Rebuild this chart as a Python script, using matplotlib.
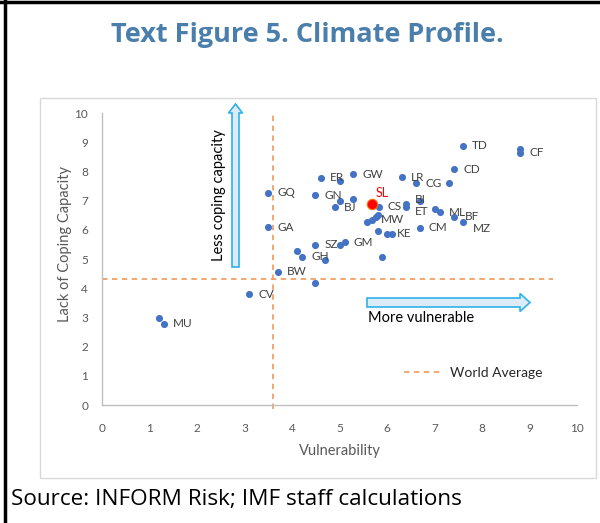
import matplotlib
matplotlib.use("Agg")
import matplotlib.pyplot as plt
from matplotlib.patches import FancyArrow, Rectangle
from matplotlib.lines import Line2D

# ---------------- data ----------------
labels = ["", "MU", "CV", "GQ", "GA", "BW", "", "GH", "", "SZ", "GN", "ER", "",
          "BJ", "", "", "", "GM", "GW", "", "", "MW", "", "", "CS", "", "",
          "KE", "", "LR", "BI", "ET", "CG", "", "CM", "", "ML", "", "CD", "BF",
          "TD", "MZ", "", "CF"]
vulnerability = [1.20, 1.30, 3.10, 3.50, 3.50, 3.70, 4.11, 4.21, 4.49, 4.49, 4.49, 4.60, 4.70,
                 4.90, 5.01, 5.01, 5.01, 5.11, 5.29, 5.29, 5.58, 5.69, 5.76, 5.81, 5.83, 5.81, 5.90,
                 6.01, 6.10, 6.31, 6.39, 6.39, 6.61, 6.69, 6.69, 7.00, 7.11, 7.31, 7.41, 7.41,
                 7.60, 7.61, 8.80, 8.80]
coping = [2.99, 2.78, 3.79, 7.27, 6.08, 4.57, 5.29, 5.08, 4.17, 5.48, 7.19, 7.78, 4.97,
          6.77, 7.67, 6.98, 5.48, 5.57, 7.90, 7.07, 6.25, 6.34, 6.43, 6.51, 6.79, 5.97, 5.08,
          5.86, 5.86, 7.80, 6.90, 6.77, 7.59, 7.00, 6.07, 6.71, 6.60, 7.59, 8.07, 6.45,
          8.88, 6.28, 8.77, 8.64]
sl_label = "SL"
sl_vulnerability = 5.69
sl_coping = 6.87
world_avg_vulnerability = 3.59
world_avg_coping = 4.32
x_ticks = [0, 1, 2, 3, 4, 5, 6, 7, 8, 9, 10]
y_ticks = [0, 1, 2, 3, 4, 5, 6, 7, 8, 9, 10]

# ---------------- figure ----------------
W, H = 600, 523
fig = plt.figure(figsize=(W / 100, H / 100), dpi=100)
fig.patch.set_facecolor("white")

def fx(px):
    return px / W

def fy(py):
    return 1 - py / H

# outer black frame (top + left)
fig.add_artist(Line2D([fx(0), fx(W)], [fy(1.5), fy(1.5)], color="black", lw=2.5, transform=fig.transFigure))
fig.add_artist(Line2D([fx(5), fx(5)], [fy(0), fy(H)], color="black", lw=2.5, transform=fig.transFigure))

# chart box
fig.add_artist(Rectangle((fx(40), fy(478)), fx(596) - fx(40), fy(98) - fy(478),
                         transform=fig.transFigure, fill=False, edgecolor="#d9d9d9", lw=1.0))

# title
fig.text(fx(307), fy(35), "Text Figure 5. Climate Profile.", ha="center", va="center",
         fontsize=19.5, fontweight="bold", color="#4A7EAB", family="Open Sans")

# source
fig.text(fx(11), fy(499), "Source: INFORM Risk; IMF staff calculations", ha="left", va="center",
         fontsize=16.2, color="black", family="Open Sans")

ax = fig.add_axes([fx(102), fy(405), fx(577) - fx(102), fy(113) - fy(405)])
ax.set_xlim(0, 10)
ax.set_ylim(0, 10)
ax.set_xticks(x_ticks)
ax.set_yticks(y_ticks)
ax.tick_params(length=0, labelsize=8.5, labelcolor="#595959")
ax.tick_params(axis="x", pad=13)
ax.tick_params(axis="y", pad=10)
for lab in ax.get_xticklabels() + ax.get_yticklabels():
    lab.set_family("Lato")
for s in ["top", "right"]:
    ax.spines[s].set_visible(False)
for s in ["left", "bottom"]:
    ax.spines[s].set_color("#bfbfbf")
    ax.spines[s].set_linewidth(1.0)

ax.set_xlabel("Vulnerability", fontsize=10.5, color="#595959", family="Lato", labelpad=7)
ax.set_ylabel("Lack of Coping Capacity", fontsize=10.5, color="#595959", family="Lato")
ax.yaxis.set_label_coords(-0.063, 0.55)

# world average lines
wa_color = "#F2A065"
ax.plot([world_avg_vulnerability, world_avg_vulnerability], [-0.15, 10], color=wa_color, lw=1.3,
        linestyle=(0, (3, 2.5)), clip_on=False, zorder=1)
ax.plot([0, 9.5], [world_avg_coping, world_avg_coping], color=wa_color, lw=1.3,
        linestyle=(0, (3, 2.5)), clip_on=False, zorder=1, label="World Average")

# points
ax.scatter(vulnerability, coping, s=26, color="#4472C4", zorder=3, linewidths=0)
label_offsets = {"MZ": (6.5, -5), "BI": (6.5, 3), "ET": (6.5, -3), "BF": (7.5, 0)}
for lab, v, c in zip(labels, vulnerability, coping):
    if not lab:
        continue
    off = label_offsets.get(lab, (6.5, 0))
    ax.annotate(lab, (v, c), xytext=off, textcoords="offset points", ha="left", va="center",
                fontsize=8.5, color="#404040", family="Lato", zorder=4)

ax.scatter([sl_vulnerability], [sl_coping], s=55, color="#FF0000", edgecolors="#FF6A00",
           linewidths=0.8, zorder=5)
ax.annotate(sl_label, (sl_vulnerability, sl_coping), xytext=(2.5, 8), textcoords="offset points",
            ha="left", va="center", fontsize=9, color="#FF0000", family="Lato", zorder=6)

# legend
leg = ax.legend(loc="center left", bbox_to_anchor=(fx(404), fy(373)), bbox_transform=fig.transFigure,
                frameon=False, fontsize=10, handlelength=2.7, handletextpad=0.6, borderpad=0,
                borderaxespad=0)
for t in leg.get_texts():
    t.set_family("Lato")
    t.set_color("#262626")

# arrows
arrow_edge = "#2DB3E8"
arrow_fill = "#DDEBF7"
fig.add_artist(FancyArrow(fx(235.5), fy(267), 0, fy(104) - fy(267), width=7 / W, head_width=14 / W,
                          head_length=9 / H, length_includes_head=True, transform=fig.transFigure,
                          facecolor=arrow_fill, edgecolor=arrow_edge, lw=1.2))
fig.add_artist(FancyArrow(fx(367), fy(302.5), fx(530) - fx(367), 0, width=9 / H, head_width=18 / H,
                          head_length=10 / W, length_includes_head=True, transform=fig.transFigure,
                          facecolor=arrow_fill, edgecolor=arrow_edge, lw=1.2))
fig.text(fx(219), fy(261), "Less coping capacity", rotation=90, ha="center", va="bottom",
         fontsize=10.5, color="black", family="Lato")
fig.text(fx(368), fy(318), "More vulnerable", ha="left", va="center",
         fontsize=10.5, color="black", family="Lato")

fig.savefig("out.png", dpi=100)
